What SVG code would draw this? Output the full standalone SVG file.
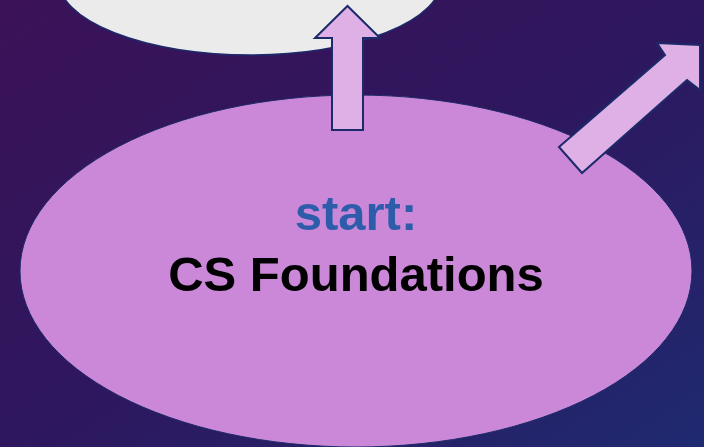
<svg xmlns="http://www.w3.org/2000/svg" width="704" height="447" viewBox="0 0 704 447">
<defs>
<linearGradient id="bg" x1="0" y1="0" x2="1" y2="1">
<stop offset="0" stop-color="#3b1258"/>
<stop offset="0.5" stop-color="#2e175e"/>
<stop offset="1" stop-color="#1f2a70"/>
</linearGradient>
</defs>
<style>
.arrow{fill:#deb0e6;stroke:#1c2a6a;stroke-width:2;stroke-linejoin:miter}
.t{font-family:"Liberation Sans",Arial,sans-serif;font-weight:bold;font-size:49px;text-anchor:middle}
</style>
<rect width="704" height="447" fill="url(#bg)"/>
<g id="node-top">
<ellipse cx="250" cy="-21" rx="192" ry="76" fill="#ebebeb" stroke="#1c2a6a" stroke-width="1.5"/>
</g>
<g id="node-start">
<ellipse cx="356" cy="271" rx="336" ry="176" fill="#cc88d8" stroke="#1c2a6a" stroke-width="1"/>
<text class="t" x="356" y="230" fill="#2d5daa">start:</text>
<text class="t" x="356" y="291" fill="#000000">CS Foundations</text>
</g>
<g id="connectors">
<polygon class="arrow" points="332,130 332,38 315,38 347.5,6 380,38 363,38 363,130"/>
<polygon class="arrow" points="559,147 665,55 657,43 700,45 700,90 687,80 582,173"/>
</g>
</svg>
